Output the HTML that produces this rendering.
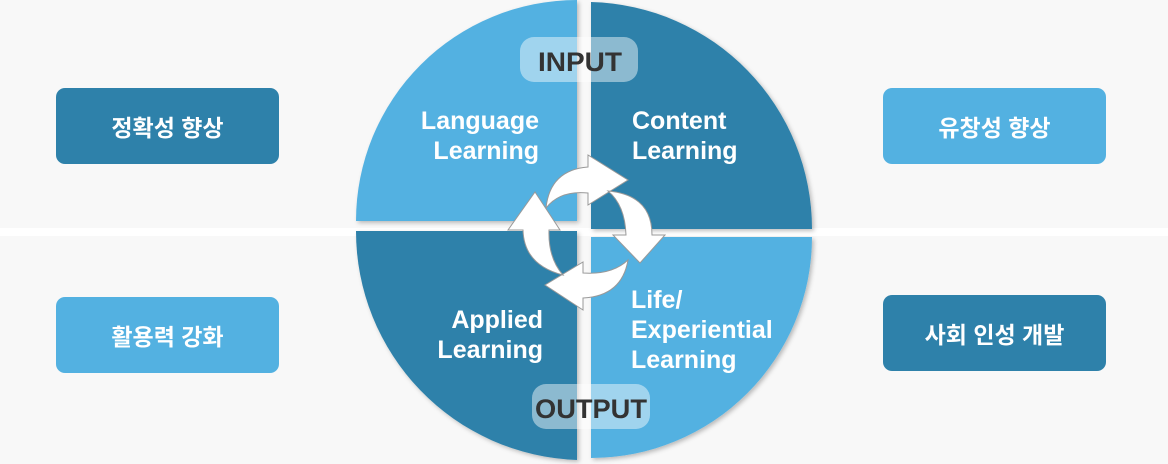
<!DOCTYPE html>
<html><head><meta charset="utf-8"><style>
html,body{margin:0;padding:0}
body{width:1168px;height:464px;background:#f8f8f8;position:relative;overflow:hidden;font-family:"Liberation Sans","Noto Sans CJK KR",sans-serif}
.band{position:absolute;left:0;top:228px;width:1168px;height:8px;background:#fff}
.box{position:absolute;width:223px;height:76px;border-radius:9px;color:#fff;font-weight:bold;font-size:23px;display:flex;align-items:center;justify-content:center}
.d{background:#2e81aa}.l{background:#53b1e1}
svg{position:absolute;left:0;top:0}
</style></head><body>
<div class="band"></div>
<div class="box d" style="left:56px;top:88px">정확성 향상</div>
<div class="box l" style="left:56px;top:297px">활용력 강화</div>
<div class="box l" style="left:883px;top:88px">유창성 향상</div>
<div class="box d" style="left:883px;top:295px">사회 인성 개발</div>
<svg width="1168" height="464" viewBox="0 0 1168 464">
<defs><filter id="sh" x="-10%" y="-10%" width="130%" height="130%"><feDropShadow dx="2" dy="2" stdDeviation="2" flood-color="#000" flood-opacity="0.25"/></filter></defs>
<g filter="url(#sh)">
<path d="M577,221 L356,221 A221,221 0 0 1 577,0 Z" fill="#53b1e1"/>
<path d="M591,229 L591,2 A227,227 0 0 1 812,229 Z" fill="#2e81aa"/>
<path d="M577,231 L356,231 A229,229 0 0 0 577,460 Z" fill="#2e81aa"/>
<path d="M591,237 L812,237 A221,221 0 0 1 591,458 Z" fill="#53b1e1"/>
</g>
<rect x="520" y="37" width="118" height="45" rx="14" fill="#fff" fill-opacity="0.45"/>
<rect x="532" y="384" width="118" height="45" rx="14" fill="#fff" fill-opacity="0.45"/>
<g font-weight="bold" fill="#333" font-size="27" text-anchor="middle">
<text x="580" y="71" textLength="84" lengthAdjust="spacingAndGlyphs">INPUT</text>
<text x="591" y="418" textLength="112" lengthAdjust="spacingAndGlyphs">OUTPUT</text>
</g>
<g fill="#fff" font-weight="bold" font-size="25">
<text x="539" y="129" text-anchor="end">Language</text>
<text x="539" y="159" text-anchor="end">Learning</text>
<text x="632" y="129">Content</text>
<text x="632" y="159">Learning</text>
<text x="543" y="328" text-anchor="end">Applied</text>
<text x="543" y="358" text-anchor="end">Learning</text>
<text x="631" y="308">Life/</text>
<text x="631" y="338">Experiential</text>
<text x="631" y="368">Learning</text>
</g>
<g fill="#fff" stroke="#999" stroke-width="1">
<path d="M546,208 Q550,170 588,167 L588,155 L628,180 L588,205 L588,193 Q560,190 546,208 Z"/>
<path d="M608,191 Q652,195 652,235 L665,235 L640,263 L613,235 L626,235 Q625,205 608,191 Z"/>
<path d="M628,260 Q622,296 583,298 L583,310 L545,285 L583,262 L583,273 Q612,275 628,260 Z"/>
<path d="M563,275 Q524,265 523,230 L508,230 L535,192 L560,230 L549,230 Q548,258 563,275 Z"/>
</g>
</svg>
</body></html>
